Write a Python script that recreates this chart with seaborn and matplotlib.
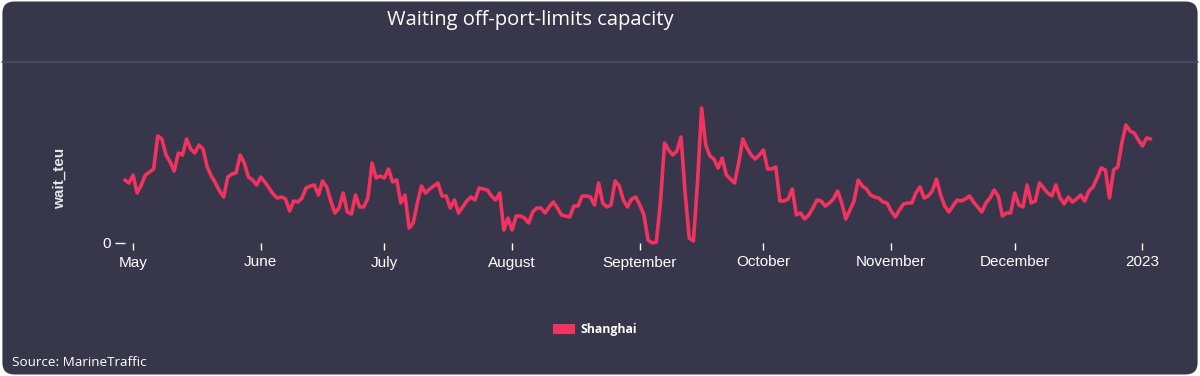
import pandas as pd
import matplotlib.pyplot as plt
import seaborn as sns
from matplotlib.patches import Patch, FancyBboxPatch

# daily waiting capacity at Shanghai, starting 2022-04-29
start_date = '2022-04-29'
wait_teu = [
    63, 60,
    # May
    68, 50, 58, 68, 71, 74, 107, 104, 88, 81, 72, 90, 88, 104, 94, 90, 98, 94,
    76, 67, 60, 52, 46, 66, 69, 70, 88, 80, 66, 63, 58,
    # June
    66, 61, 55, 49, 45, 46, 44, 32, 42, 41, 45, 55, 57, 58, 48, 62, 56, 42,
    30, 35, 50, 31, 29, 48, 36, 36, 45, 80, 65, 67,
    # July
    65, 74, 61, 63, 40, 48, 15, 20, 40, 57, 50, 54, 57, 60, 47, 47, 35, 43,
    30, 36, 42, 46, 43, 55, 54, 53, 47, 43, 50, 13, 25,
    # August
    13, 27, 27, 25, 20, 31, 35, 35, 30, 36, 41, 35, 28, 27, 26, 37, 37, 47,
    47, 46, 38, 60, 40, 36, 38, 62, 57, 43, 36, 44, 46,
    # September
    38, 28, 3, 0, 1, 40, 100, 93, 88, 92, 106, 50, 5, 2, 60, 135, 98, 87,
    84, 75, 85, 68, 64, 60, 80, 104, 95, 88, 84, 88,
    # October
    93, 74, 74, 76, 42, 42, 44, 54, 28, 30, 24, 28, 35, 43, 42, 37, 40, 44,
    52, 40, 24, 33, 42, 63, 57, 54, 48, 46, 45, 41, 40,
    # November
    32, 26, 33, 39, 40, 40, 50, 56, 45, 47, 52, 64, 48, 37, 31, 37, 43, 42,
    44, 47, 41, 36, 31, 40, 45, 53, 47, 27, 30, 30,
    # December
    50, 38, 36, 58, 40, 42, 60, 55, 50, 47, 58, 45, 39, 46, 41, 44, 48, 42,
    52, 56, 65, 75, 73, 45, 73, 76, 100, 118, 112, 110, 103,
    # January
    97, 105, 104,
]

tick_dates = ['2022-05-01', '2022-06-01', '2022-07-01', '2022-08-01', '2022-09-01',
              '2022-10-01', '2022-11-01', '2022-12-01', '2023-01-01']
tick_labels = ['May', 'June', 'July', 'August', 'September',
               'October', 'November', 'December', '2023']

bg = '#37364b'
line_color = '#f2325f'

df = pd.DataFrame({'date': pd.date_range(start_date, periods=len(wait_teu), freq='D'),
                   'wait_teu': wait_teu})

sns.set_theme(style='dark')

fig = plt.figure(figsize=(12, 3.76), dpi=100)
fig.patch.set_facecolor('white')
card = FancyBboxPatch((0.002, 0.004), 0.996, 0.992,
                      boxstyle='round,pad=0,rounding_size=0.01',
                      transform=fig.transFigure, facecolor=bg,
                      edgecolor='none', mutation_aspect=3.19, zorder=-10)
fig.patches.append(card)
# separator under the title
fig.add_artist(plt.Line2D([0.002, 0.998], [1 - 62 / 376, 1 - 62 / 376], color='#4d4c62',
                          linewidth=1.2, transform=fig.transFigure, zorder=-5))

ax = fig.add_axes([124.8 / 1200, 133 / 376, (1150.7 - 124.8) / 1200, 143 / 376])
ax.patch.set_alpha(0)

sns.lineplot(data=df, x='date', y='wait_teu', color=line_color, linewidth=2.6,
             ax=ax, clip_on=False)

ax.set_xlim(df['date'].iloc[0], df['date'].iloc[-1])
ax.set_ylim(0, 143)
ax.set_xticks(pd.to_datetime(tick_dates))
ax.set_xticklabels(tick_labels)
ax.set_yticks([0])
ax.set_yticklabels(['0'])

for s in ax.spines.values():
    s.set_visible(False)
ax.grid(False)

ax.tick_params(axis='x', bottom=True, length=5, width=1, color='white',
               labelcolor='white', labelsize=11, pad=4)
ax.tick_params(axis='y', left=True, length=7, width=1, color='white',
               labelcolor='white', labelsize=11, pad=3)
for lbl in ax.get_xticklabels() + ax.get_yticklabels():
    lbl.set_family('Liberation Sans')

ax.set_xlabel('')
ax.set_ylabel('wait_teu', color='#e6e6e6', fontsize=11, fontweight='bold',
              family='Liberation Sans')
ax.yaxis.set_label_coords(-58 / 1026, 0.45)

fig.text(530 / 1200, 1 - 20 / 376, 'Waiting off-port-limits capacity', ha='center',
         va='center', color='white', fontsize=14.5, family='Open Sans')

fig.legend(handles=[Patch(facecolor=line_color, edgecolor='none', label='Shanghai')],
           loc='center', bbox_to_anchor=(595 / 1200, 1 - 330 / 376), frameon=False,
           handlelength=1.8, handleheight=0.9, handletextpad=0.5,
           labelcolor='white', prop={'family': 'Open Sans', 'weight': 'bold', 'size': 8.8})

fig.text(12 / 1200, 1 - 362 / 376, 'Source: MarineTraffic', ha='left', va='center',
         color='white', fontsize=9.7, family='Open Sans')

fig.savefig('out.png', dpi=100, facecolor=fig.get_facecolor())
